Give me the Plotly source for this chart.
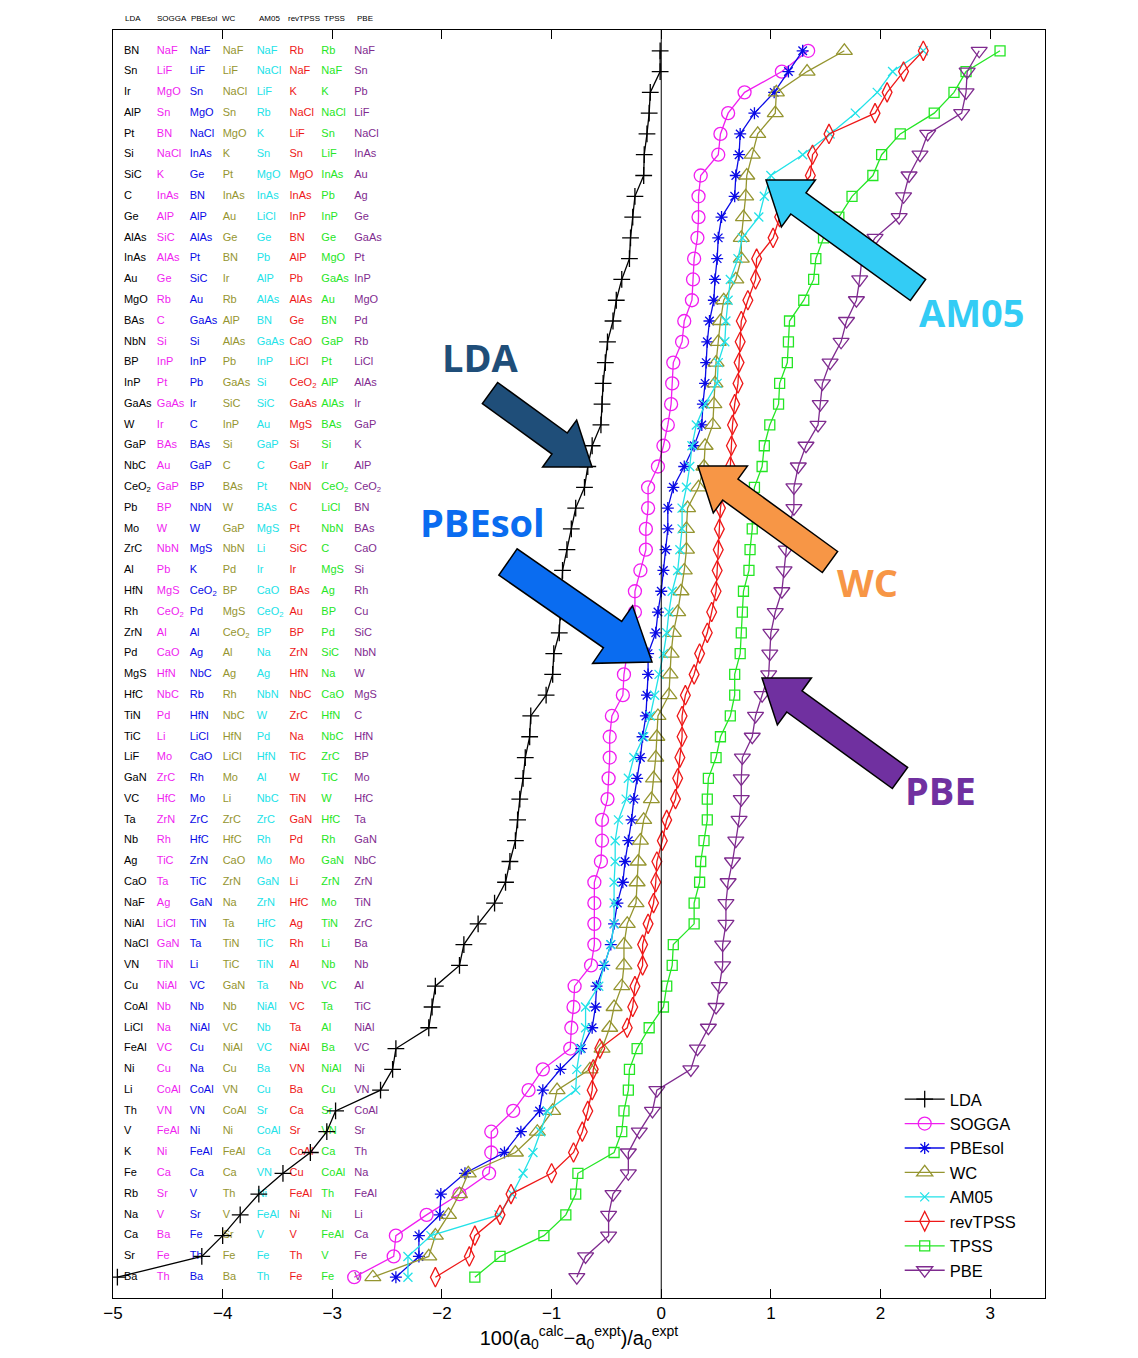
import plotly.graph_objects as go

# ---------------- data (sorted relative errors, top row first) ----------------
functionals = ["LDA", "SOGGA", "PBEsol", "WC", "AM05", "revTPSS", "TPSS", "PBE"]

lda_err = [-0.01, -0.01, -0.10, -0.11, -0.13, -0.155, -0.16, -0.24, -0.26, -0.28,
           -0.29, -0.36, -0.41, -0.44, -0.49, -0.51, -0.53, -0.54, -0.55, -0.63,
           -0.67, -0.70, -0.78, -0.82, -0.86, -0.90, -0.91, -0.92, -0.93, -0.98,
           -0.99, -1.05, -1.19, -1.20, -1.24, -1.26, -1.29, -1.31, -1.33, -1.38,
           -1.42, -1.52, -1.67, -1.80, -1.84, -2.06, -2.09, -2.12, -2.42, -2.45,
           -2.56, -2.97, -3.05, -3.20, -3.45, -3.67, -3.84, -4.00, -4.19, -4.96]
sogga_err = [1.34, 1.10, 0.76, 0.61, 0.54, 0.52, 0.36, 0.34, 0.34, 0.33,
             0.30, 0.29, 0.28, 0.21, 0.19, 0.11, 0.10, 0.09, 0.06, 0.02,
             -0.03, -0.12, -0.12, -0.14, -0.14, -0.19, -0.24, -0.24, -0.25, -0.31,
             -0.34, -0.35, -0.45, -0.47, -0.47, -0.48, -0.49, -0.54, -0.54, -0.55,
             -0.61, -0.61, -0.61, -0.61, -0.64, -0.79, -0.80, -0.82, -0.83, -1.08,
             -1.21, -1.35, -1.55, -1.55, -1.57, -1.84, -2.14, -2.42, -2.44, -2.80]
pbesol_err = [1.29, 1.16, 1.03, 0.85, 0.72, 0.71, 0.68, 0.67, 0.55, 0.52,
              0.51, 0.49, 0.48, 0.44, 0.42, 0.41, 0.40, 0.38, 0.37, 0.30,
              0.21, 0.11, 0.06, 0.06, 0.04, 0.02, 0.00, -0.03, -0.05, -0.12,
              -0.12, -0.13, -0.14, -0.17, -0.19, -0.22, -0.25, -0.27, -0.30, -0.33,
              -0.35, -0.40, -0.43, -0.46, -0.52, -0.59, -0.60, -0.63, -0.73, -0.92,
              -1.08, -1.11, -1.28, -1.43, -1.79, -2.01, -2.02, -2.21, -2.21, -2.42]
wc_err = [1.67, 1.33, 1.05, 1.04, 0.88, 0.83, 0.78, 0.77, 0.75, 0.73,
          0.73, 0.68, 0.57, 0.54, 0.52, 0.50, 0.49, 0.48, 0.47, 0.40,
          0.39, 0.34, 0.24, 0.23, 0.23, 0.21, 0.18, 0.15, 0.11, 0.09,
          0.08, 0.07, -0.03, -0.04, -0.05, -0.07, -0.09, -0.16, -0.19, -0.21,
          -0.22, -0.23, -0.31, -0.34, -0.34, -0.36, -0.43, -0.47, -0.54, -0.65,
          -0.95, -0.99, -1.13, -1.33, -1.76, -1.84, -1.94, -2.06, -2.12, -2.63]
am05_err = [2.39, 2.11, 1.97, 1.77, 1.54, 1.29, 1.00, 0.94, 0.89, 0.74,
            0.70, 0.63, 0.61, 0.59, 0.58, 0.52, 0.51, 0.40, 0.32, 0.28,
            0.26, 0.23, 0.19, 0.19, 0.17, 0.15, 0.10, 0.07, 0.05, 0.02,
            -0.02, -0.06, -0.10, -0.16, -0.25, -0.30, -0.32, -0.39, -0.42, -0.42,
            -0.43, -0.43, -0.43, -0.46, -0.52, -0.57, -0.69, -0.69, -0.74, -0.77,
            -0.78, -1.04, -1.10, -1.17, -1.26, -1.36, -1.48, -2.10, -2.31, -2.31]
revtpss_err = [2.39, 2.21, 2.06, 1.95, 1.53, 1.38, 1.36, 1.22, 1.08, 1.02,
               0.87, 0.86, 0.79, 0.73, 0.72, 0.71, 0.70, 0.67, 0.65, 0.64,
               0.63, 0.57, 0.54, 0.53, 0.52, 0.51, 0.50, 0.46, 0.42, 0.35,
               0.30, 0.22, 0.19, 0.19, 0.17, 0.15, 0.13, 0.05, 0.01, -0.04,
               -0.05, -0.07, -0.12, -0.17, -0.17, -0.24, -0.26, -0.31, -0.56, -0.62,
               -0.63, -0.67, -0.72, -0.80, -1.00, -1.37, -1.47, -1.70, -1.75, -2.06]
tpss_err = [3.09, 2.78, 2.67, 2.49, 2.18, 2.01, 1.93, 1.74, 1.62, 1.48,
            1.41, 1.39, 1.30, 1.17, 1.16, 1.15, 1.08, 1.07, 0.99, 0.94,
            0.92, 0.85, 0.83, 0.83, 0.81, 0.80, 0.75, 0.74, 0.73, 0.72,
            0.67, 0.67, 0.63, 0.54, 0.50, 0.43, 0.42, 0.42, 0.39, 0.36,
            0.35, 0.30, 0.30, 0.11, 0.10, 0.05, 0.02, -0.11, -0.22, -0.29,
            -0.30, -0.34, -0.36, -0.43, -0.76, -0.78, -0.87, -1.07, -1.47, -1.70]
pbe_err = [2.90, 2.79, 2.78, 2.74, 2.43, 2.36, 2.26, 2.21, 2.17, 1.95,
           1.83, 1.81, 1.78, 1.69, 1.64, 1.54, 1.47, 1.45, 1.43, 1.32,
           1.25, 1.21, 1.21, 1.16, 1.14, 1.12, 1.10, 1.04, 1.00, 0.99,
           0.98, 0.92, 0.86, 0.83, 0.74, 0.73, 0.73, 0.71, 0.68, 0.65,
           0.61, 0.59, 0.59, 0.56, 0.56, 0.53, 0.50, 0.43, 0.33, 0.27,
           -0.04, -0.08, -0.20, -0.30, -0.30, -0.44, -0.48, -0.48, -0.69, -0.77]

C2 = "CeO<sub>2</sub>"
lda_names = ["BN", "Sn", "Ir", "AlP", "Pt", "Si", "SiC", "C", "Ge", "AlAs",
             "InAs", "Au", "MgO", "BAs", "NbN", "BP", "InP", "GaAs", "W", "GaP",
             "NbC", C2, "Pb", "Mo", "ZrC", "Al", "HfN", "Rh", "ZrN", "Pd",
             "MgS", "HfC", "TiN", "TiC", "LiF", "GaN", "VC", "Ta", "Nb", "Ag",
             "CaO", "NaF", "NiAl", "NaCl", "VN", "Cu", "CoAl", "LiCl", "FeAl", "Ni",
             "Li", "Th", "V", "K", "Fe", "Rb", "Na", "Ca", "Sr", "Ba"]
sogga_names = ["NaF", "LiF", "MgO", "Sn", "BN", "NaCl", "K", "InAs", "AlP", "SiC",
               "AlAs", "Ge", "Rb", "C", "Si", "InP", "Pt", "GaAs", "Ir", "BAs",
               "Au", "GaP", "BP", "W", "NbN", "Pb", "MgS", C2, "Al", "CaO",
               "HfN", "NbC", "Pd", "Li", "Mo", "ZrC", "HfC", "ZrN", "Rh", "TiC",
               "Ta", "Ag", "LiCl", "GaN", "TiN", "NiAl", "Nb", "Na", "VC", "Cu",
               "CoAl", "VN", "FeAl", "Ni", "Ca", "Sr", "V", "Ba", "Fe", "Th"]
pbesol_names = ["NaF", "LiF", "Sn", "MgO", "NaCl", "InAs", "Ge", "BN", "AlP", "AlAs",
                "Pt", "SiC", "Au", "GaAs", "Si", "InP", "Pb", "Ir", "C", "BAs",
                "GaP", "BP", "NbN", "W", "MgS", "K", C2, "Pd", "Al", "Ag",
                "NbC", "Rb", "HfN", "LiCl", "CaO", "Rh", "Mo", "ZrC", "HfC", "ZrN",
                "TiC", "GaN", "TiN", "Ta", "Li", "VC", "Nb", "NiAl", "Cu", "Na",
                "CoAl", "VN", "Ni", "FeAl", "Ca", "V", "Sr", "Fe", "Th", "Ba"]
wc_names = ["NaF", "LiF", "NaCl", "Sn", "MgO", "K", "Pt", "InAs", "Au", "Ge",
            "BN", "Ir", "Rb", "AlP", "AlAs", "Pb", "GaAs", "SiC", "InP", "Si",
            "C", "BAs", "W", "GaP", "NbN", "Pd", "BP", "MgS", C2, "Al",
            "Ag", "Rh", "NbC", "HfN", "LiCl", "Mo", "Li", "ZrC", "HfC", "CaO",
            "ZrN", "Na", "Ta", "TiN", "TiC", "GaN", "Nb", "VC", "NiAl", "Cu",
            "VN", "CoAl", "Ni", "FeAl", "Ca", "Th", "V", "Sr", "Fe", "Ba"]
am05_names = ["NaF", "NaCl", "LiF", "Rb", "K", "Sn", "MgO", "InAs", "LiCl", "Ge",
              "Pb", "AlP", "AlAs", "BN", "GaAs", "InP", "Si", "SiC", "Au", "GaP",
              "C", "Pt", "BAs", "MgS", "Li", "Ir", "CaO", C2, "BP", "Na",
              "Ag", "NbN", "W", "Pd", "HfN", "Al", "NbC", "ZrC", "Rh", "Mo",
              "GaN", "ZrN", "HfC", "TiC", "TiN", "Ta", "NiAl", "Nb", "VC", "Ba",
              "Cu", "Sr", "CoAl", "Ca", "VN", "Ni", "FeAl", "V", "Fe", "Th"]
revtpss_names = ["Rb", "NaF", "K", "NaCl", "LiF", "Sn", "MgO", "InAs", "InP", "BN",
                 "AlP", "Pb", "AlAs", "Ge", "CaO", "LiCl", C2, "GaAs", "MgS", "Si",
                 "GaP", "NbN", "C", "Pt", "SiC", "Ir", "BAs", "Au", "BP", "ZrN",
                 "HfN", "NbC", "ZrC", "Na", "TiC", "W", "TiN", "GaN", "Pd", "Mo",
                 "Li", "HfC", "Ag", "Rh", "Al", "Nb", "VC", "Ta", "NiAl", "VN",
                 "Ba", "Ca", "Sr", "CoAl", "Cu", "FeAl", "Ni", "V", "Th", "Fe"]
tpss_names = ["Rb", "NaF", "K", "NaCl", "Sn", "LiF", "InAs", "Pb", "InP", "Ge",
              "MgO", "GaAs", "Au", "BN", "GaP", "Pt", "AlP", "AlAs", "BAs", "Si",
              "Ir", C2, "LiCl", "NbN", "C", "MgS", "Ag", "BP", "Pd", "SiC",
              "Na", "CaO", "HfN", "NbC", "ZrC", "TiC", "W", "HfC", "Rh", "GaN",
              "ZrN", "Mo", "TiN", "Li", "Nb", "VC", "Ta", "Al", "Ba", "NiAl",
              "Cu", "Sr", "VN", "Ca", "CoAl", "Th", "Ni", "FeAl", "V", "Fe"]
pbe_names = ["NaF", "Sn", "Pb", "LiF", "NaCl", "InAs", "Au", "Ag", "Ge", "GaAs",
             "Pt", "InP", "MgO", "Pd", "Rb", "LiCl", "AlAs", "Ir", "GaP", "K",
             "AlP", C2, "BN", "BAs", "CaO", "Si", "Rh", "Cu", "SiC", "NbN",
             "W", "MgS", "C", "HfN", "BP", "Mo", "HfC", "Ta", "GaN", "NbC",
             "ZrN", "TiN", "ZrC", "Ba", "Nb", "Al", "TiC", "NiAl", "VC", "Ni",
             "VN", "CoAl", "Sr", "Th", "Na", "FeAl", "Li", "Ca", "Fe", "V"]

tick_vals = [-5, -4, -3, -2, -1, 0, 1, 2, 3]

# ---------------- styles ----------------
errs = [lda_err, sogga_err, pbesol_err, wc_err, am05_err, revtpss_err, tpss_err, pbe_err]
names = [lda_names, sogga_names, pbesol_names, wc_names, am05_names, revtpss_names,
         tpss_names, pbe_names]
colors = ["#000000", "#f01ef0", "#0a0ae6", "#959530", "#22e2e8", "#ee1818", "#25e625", "#7f2b8f"]
symbols = ["cross-thin-open", "circle-open", "asterisk-open", "triangle-up-open",
           "x-thin-open", "diamond-tall-open", "square-open", "triangle-down-open"]
msizes = [12, 13, 10, 14, 9, 14, 10, 14]
col_x = [-4.90, -4.60, -4.30, -4.00, -3.69, -3.39, -3.10, -2.80]
header_x = [-4.91, -4.62, -4.31, -4.02, -3.69, -3.42, -3.09, -2.79]

FONT = "Liberation Sans, Arial, sans-serif"
rows = list(range(1, 61))

# page geometry (the html body adds an 8px offset)
OFF = 8
W, H = 1138, 1358
L, R, T, B = 113, 1045, 30, 1298

fig = go.Figure()

# text table of materials
for f, nm, c, cx in zip(functionals, names, colors, col_x):
    fig.add_trace(go.Scatter(
        x=[cx] * len(nm), y=rows, mode="text", text=nm,
        textposition="middle right",
        textfont=dict(family=FONT, size=11, color=c),
        showlegend=False, hoverinfo="skip"))

# curves
for f, e, c, s, ms in zip(functionals, errs, colors, symbols, msizes):
    fig.add_trace(go.Scatter(
        x=e, y=rows, mode="lines+markers", name=f,
        line=dict(color=c, width=1.3),
        marker=dict(symbol=s, size=ms, color=c, line=dict(color=c, width=1.3))))

# zero line
fig.add_shape(type="line", xref="x", yref="paper", x0=0, x1=0, y0=0, y1=1,
              line=dict(color="black", width=1))

# header labels above the table
for f, hx in zip(functionals, header_x):
    fig.add_annotation(x=hx, xref="x", y=1 + 12 / (B - T), yref="paper",
                       text=f, showarrow=False, xanchor="left", yanchor="middle",
                       font=dict(family=FONT, size=8, color="black"))

# ---------------- block arrows and labels (page pixel positions) ----------------
PX_X = (R - L) / 8.5
PX_Y = (B - T) / 61.0


def to_data(px, py):
    return (px - L) / PX_X - 5, (py - T) / PX_Y


def arrow_path(tail, tip, shaft, head_w, head_len):
    tx, ty = tail
    px, py = tip
    dx, dy = px - tx, py - ty
    ln = (dx * dx + dy * dy) ** 0.5
    ux, uy = dx / ln, dy / ln
    nx, ny = -uy, ux
    bx, by = px - head_len * ux, py - head_len * uy
    w, h = shaft / 2, head_w / 2
    pts = [(tx + w * nx, ty + w * ny), (bx + w * nx, by + w * ny),
           (bx + h * nx, by + h * ny), (px, py),
           (bx - h * nx, by - h * ny), (bx - w * nx, by - w * ny),
           (tx - w * nx, ty - w * ny)]
    d = [to_data(a, b) for a, b in pts]
    return "M " + " L ".join(f"{x:.4f},{y:.4f}" for x, y in d) + " Z"


arrows = [
    ("LDA", "#1f4e79", (490, 393), (592, 467), 26, 58, 40, (480, 357)),
    ("PBEsol", "#0a6cf0", (508, 562), (652, 662), 32, 70, 48, (482, 522)),
    ("WC", "#f79646", (830, 562), (698, 466), 26, 58, 40, (867, 582)),
    ("AM05", "#33ccf5", (918, 290), (766, 180), 26, 58, 40, (972, 312)),
    ("PBE", "#7030a0", (900, 778), (762, 678), 26, 58, 40, (940, 790)),
]
for lab, col, tail, tip, sw, hw, hl, lpos in arrows:
    fig.add_shape(type="path", xref="x", yref="y",
                  path=arrow_path(tail, tip, sw, hw, hl),
                  fillcolor=col, line=dict(color="black", width=1.5), layer="above")
    lx, ly = to_data(*lpos)
    fig.add_annotation(x=lx, y=ly, xref="x", yref="y", text=f"<b>{lab}</b>",
                       showarrow=False, xanchor="center", yanchor="middle",
                       font=dict(family="Open Sans, sans-serif", size=38, color=col))

fig.update_layout(
    width=W, height=H, autosize=False,
    paper_bgcolor="white", plot_bgcolor="white",
    margin=dict(l=L - OFF, r=W - R + OFF, t=T - OFF, b=H - B + OFF),
    xaxis=dict(range=[-5, 3.5], tickvals=tick_vals, ticks="inside", ticklen=9,
               tickcolor="black", showline=True, linecolor="black", linewidth=1,
               mirror="ticks", showgrid=False, zeroline=False,
               tickfont=dict(family=FONT, size=17, color="black"),
               title=dict(text="100(a<sub>0</sub><sup>calc</sup>\u2212a<sub>0</sub><sup>expt</sup>)/a<sub>0</sub><sup>expt</sup>",
                          font=dict(family=FONT, size=20, color="black"), standoff=4)),
    yaxis=dict(range=[61, 0], showticklabels=False, ticks="", showline=True,
               linecolor="black", linewidth=1, mirror=True, showgrid=False,
               zeroline=False),
    legend=dict(x=0.975, y=0.008, xanchor="right", yanchor="bottom",
                bgcolor="rgba(255,255,255,0)", borderwidth=0,
                font=dict(family=FONT, size=16.5, color="black"),
                tracegroupgap=0, itemwidth=40),
    showlegend=True,
)

fig.write_html("out.html")
